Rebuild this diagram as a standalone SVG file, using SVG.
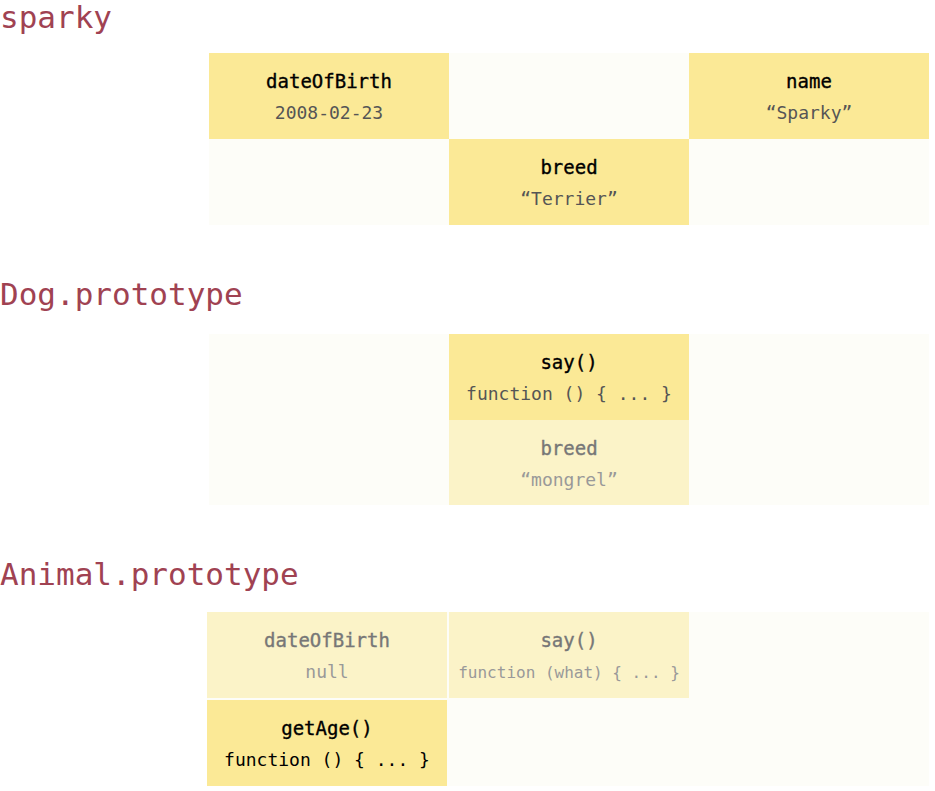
<svg xmlns="http://www.w3.org/2000/svg" width="935" height="791" viewBox="0 0 935 791">
<style>
.title{font-family:"DejaVu Sans Mono","Liberation Mono",monospace;font-size:31px;fill:#a04252}
.bg{fill:#fdfdf8}
.on{fill:#fbe996}
.off{fill:#fbf3c8}
.k{font-family:"DejaVu Sans Mono","Liberation Mono",monospace;font-size:19px;text-anchor:middle;fill:#000;stroke:#000;stroke-width:0.35px}
.v{font-family:"DejaVu Sans Mono","Liberation Mono",monospace;font-size:18px;text-anchor:middle;fill:#555}
.kf{fill:#777;stroke:#777}
.vf{fill:#999}
</style>
<rect width="935" height="791" fill="#fff"/>
<g id="sparky">
<text class="title" x="0" y="28">sparky</text>
<rect class="bg" x="209" y="53" width="720" height="172"/>
<g id="sparky-dateOfBirth"><rect class="on" x="209" y="53" width="240" height="86"/><text class="k" x="329" y="88">dateOfBirth</text><text class="v" x="329" y="119">2008-02-23</text></g>
<g id="sparky-name"><rect class="on" x="689" y="53" width="240" height="86"/><text class="k" x="809" y="88">name</text><text class="v" x="809" y="119">“Sparky”</text></g>
<g id="sparky-breed"><rect class="on" x="449" y="139" width="240" height="86"/><text class="k" x="569" y="174">breed</text><text class="v" x="569" y="205">“Terrier”</text></g>
</g>
<g id="dog-prototype">
<text class="title" x="0" y="305">Dog.prototype</text>
<rect class="bg" x="209" y="334" width="720" height="171"/>
<g id="dog-say"><rect class="on" x="449" y="334" width="240" height="86"/><text class="k" x="569" y="369">say()</text><text class="v" x="569" y="400">function () { ... }</text></g>
<g id="dog-breed"><rect class="off" x="449" y="420" width="240" height="85"/><text class="k kf" x="569" y="455">breed</text><text class="v vf" x="569" y="486">“mongrel”</text></g>
</g>
<g id="animal-prototype">
<text class="title" x="0" y="585">Animal.prototype</text>
<rect class="bg" x="207" y="612" width="722" height="174"/>
<g id="animal-dateOfBirth"><rect class="off" x="207" y="612" width="240" height="86"/><text class="k kf" x="327" y="647">dateOfBirth</text><text class="v vf" x="327" y="678">null</text></g>
<g id="animal-say"><rect class="off" x="449" y="612" width="240" height="86"/><text class="k kf" x="569" y="647">say()</text><text class="v vf" x="569" y="678" style="font-size:16px">function (what) { ... }</text></g>
<g id="animal-getAge"><rect class="on" x="207" y="700" width="240" height="86"/><text class="k" x="327" y="735">getAge()</text><text class="v" x="327" y="766" style="fill:#000">function () { ... }</text></g>
</g>
<g id="connectors"/>
</svg>
